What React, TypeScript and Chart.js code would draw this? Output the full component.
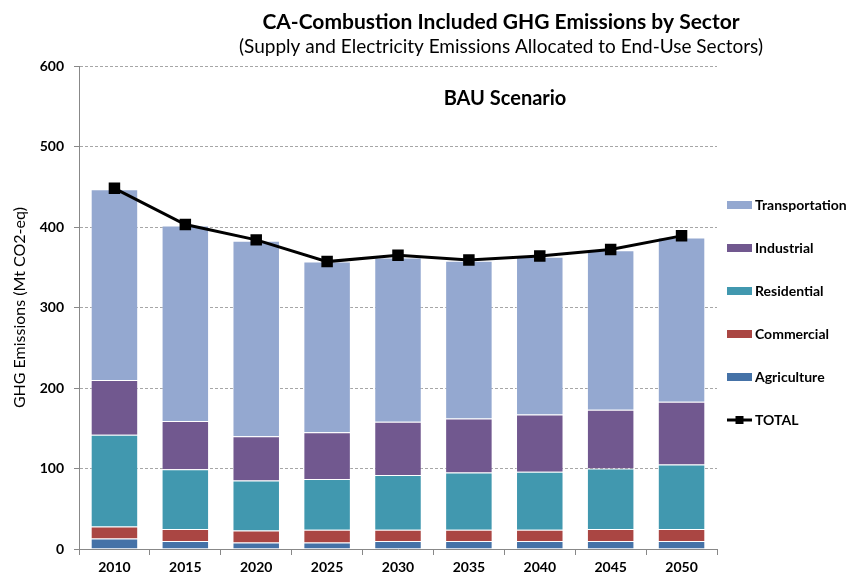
import React, { useEffect, useRef } from 'react';
import { Chart, registerables } from 'chart.js';

Chart.register(...registerables);

// ---- data ----
const years = ['2010', '2015', '2020', '2025', '2030', '2035', '2040', '2045', '2050'];
const agriculture = [13, 10, 8, 8, 10, 10, 10, 10, 10];
const commercial = [15, 15, 15, 16, 14, 14, 14, 15, 15];
const residential = [114, 74, 62, 63, 68, 71, 72, 75, 80];
const industrial = [68, 60, 55, 58, 66, 67, 71, 73, 78];
const transportation = [237, 243, 243, 212, 204, 196, 196, 198, 204];
const total = [448, 403, 384, 357, 365, 359, 364, 372, 389];

const titleText = 'CA-Combustion Included GHG Emissions by Sector';
const subtitleText = '(Supply and Electricity Emissions Allocated to End-Use Sectors)';
const scenarioText = 'BAU Scenario';
const yTitle = 'GHG Emissions (Mt CO2-eq)';

const FONT = 'Lato, "Open Sans", sans-serif';

const titlesPlugin = {
  id: 'titles',
  afterDraw(chart: any) {
    const { ctx } = chart;
    ctx.save();
    ctx.fillStyle = '#000';
    ctx.textAlign = 'center';
    ctx.textBaseline = 'alphabetic';
    ctx.font = `bold 21px ${FONT}`;
    ctx.fillText(titleText, 501, 29);
    ctx.font = `19px ${FONT}`;
    ctx.fillText(subtitleText, 501, 53);
    ctx.font = `bold 20px ${FONT}`;
    ctx.fillText(scenarioText, 505, 105);
    ctx.restore();
  },
};

const legendPlugin = {
  id: 'sideLegend',
  afterDraw(chart: any) {
    const { ctx, chartArea } = chart;
    const ds = chart.data.datasets;
    const order = [4, 3, 2, 1, 0, 5];
    const x0 = chartArea.right + 10;
    let y = chartArea.top + 139;
    ctx.save();
    ctx.font = `bold 14px ${FONT}`;
    ctx.textAlign = 'left';
    ctx.textBaseline = 'middle';
    order.forEach((i) => {
      const d = ds[i];
      if (d.type === 'line') {
        ctx.strokeStyle = '#000';
        ctx.lineWidth = 3;
        ctx.beginPath();
        ctx.moveTo(x0, y);
        ctx.lineTo(x0 + 25, y);
        ctx.stroke();
        ctx.fillStyle = '#000';
        ctx.fillRect(x0 + 12.5 - 4, y - 4, 8, 8);
      } else {
        ctx.fillStyle = d.backgroundColor;
        ctx.fillRect(x0, y - 4, 25, 8);
      }
      ctx.fillStyle = '#000';
      ctx.fillText(d.label, x0 + 28, y);
      y += 43;
    });
    ctx.restore();
  },
};

export default function App() {
  const ref = useRef<HTMLCanvasElement | null>(null);

  useEffect(() => {
    document.body.style.margin = '0';
    if (!ref.current) return;
    const barBorder = 'rgba(255,255,255,0.35)';
    const chart = new Chart(ref.current, {
      type: 'bar',
      data: {
        labels: years,
        datasets: [
          { label: 'Agriculture', data: agriculture, backgroundColor: '#4572A7', borderColor: barBorder, borderWidth: 1, stack: 'sectors' },
          { label: 'Commercial', data: commercial, backgroundColor: '#AA4643', borderColor: barBorder, borderWidth: 1, stack: 'sectors' },
          { label: 'Residential', data: residential, backgroundColor: '#4198AF', borderColor: barBorder, borderWidth: 1, stack: 'sectors' },
          { label: 'Industrial', data: industrial, backgroundColor: '#71588F', borderColor: barBorder, borderWidth: 1, stack: 'sectors' },
          { label: 'Transportation', data: transportation, backgroundColor: '#94A8D0', borderColor: barBorder, borderWidth: 1, stack: 'sectors' },
          {
            type: 'line',
            label: 'TOTAL',
            data: total,
            borderColor: '#000',
            backgroundColor: '#000',
            borderWidth: 3,
            pointStyle: 'rect',
            pointRadius: 6,
            pointBackgroundColor: '#000',
            pointBorderColor: '#000',
            tension: 0,
            order: -1,
            stack: 'total',
          } as any,
        ],
      },
      options: {
        responsive: false,
        animation: false,
        layout: { padding: { top: 66, right: 134, left: 0, bottom: 0 } },
        datasets: { bar: { categoryPercentage: 1, barPercentage: 0.67 } } as any,
        plugins: {
          legend: { display: false },
          title: { display: false },
          tooltip: { enabled: false },
        },
        scales: {
          x: {
            stacked: true,
            grid: { display: true, drawOnChartArea: false, drawTicks: true, tickLength: 6, tickColor: '#888', offset: true },
            border: { color: '#888' },
            ticks: { font: { family: FONT, size: 14, weight: 'bold' }, color: '#000', padding: 4 },
            afterFit: (s: any) => { s.height = 27; },
          },
          y: {
            stacked: true,
            min: 0,
            max: 600,
            ticks: { stepSize: 100, font: { family: FONT, size: 14, weight: 'bold' }, color: '#000', padding: 10 },
            grid: { color: '#a6a6a6', tickColor: '#888', tickLength: 5, tickBorderDash: [] } as any,
            border: { color: '#888', dash: [3, 2] },
            title: { display: true, text: yTitle, font: { family: FONT, size: 16 }, color: '#000', padding: { top: 10, bottom: 0 } },
            afterFit: (s: any) => { s.width = 79; },
          },
        },
      },
      plugins: [titlesPlugin, legendPlugin],
    });
    return () => chart.destroy();
  }, []);

  return (
    <div style={{ width: 851, height: 576 }}>
      <canvas ref={ref} width={851} height={576} style={{ display: 'block' }} />
    </div>
  );
}
